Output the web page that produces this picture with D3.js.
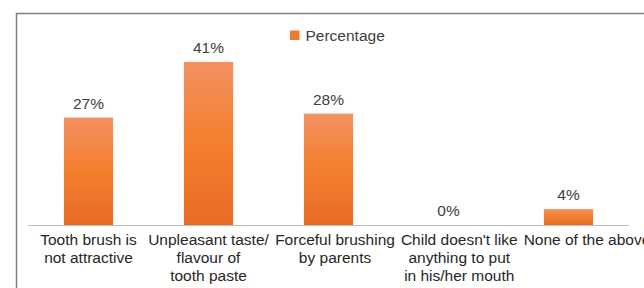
<!DOCTYPE html>
<html><head><meta charset="utf-8">
<script src="https://cdn.jsdelivr.net/npm/d3@7"></script>
<style>body{margin:0;background:#fff;}svg{display:block;font-family:"Liberation Sans",Arial,sans-serif;}</style>
</head><body>
<svg id="c" width="644" height="288"></svg>
<script>
const categories = [
  ["Tooth brush is","not attractive"],
  ["Unpleasant taste/","flavour of","tooth paste"],
  ["Forceful brushing","by parents"],
  ["Child doesn't like","anything to put","in his/her mouth"],
  ["None of the above"]
];
const values = [27, 41, 28, 0, 4];
const seriesName = "Percentage";

const svg = d3.select("#c");
const defs = svg.append("defs");
const g = defs.append("linearGradient").attr("id","grad").attr("x1",0).attr("y1",0).attr("x2",0).attr("y2",1);
g.append("stop").attr("offset","0%").attr("stop-color","#f39160");
g.append("stop").attr("offset","50%").attr("stop-color","#f47f2e");
g.append("stop").attr("offset","100%").attr("stop-color","#e86b25");

// frame
svg.append("path").attr("d","M16.5,300 V13.5 H660").attr("fill","none").attr("stroke","#7f7f7f").attr("stroke-width",1.5);

const x = d3.scaleBand().domain(d3.range(values.length)).range([28.5,628.5]).paddingInner(0.59).paddingOuter(0.295);
const y = d3.scaleLinear().domain([0,45]).range([225,46]);

svg.append("line").attr("x1",28).attr("x2",629).attr("y1",225.5).attr("y2",225.5).attr("stroke","#bfbfbf").attr("stroke-width",1);

svg.selectAll("rect.bar").data(values).join("rect").attr("class","bar")
  .attr("x",(d,i)=>x(i)).attr("width",x.bandwidth())
  .attr("y",d=>y(d)).attr("height",d=>y(0)-y(d)).attr("fill","url(#grad)");

svg.selectAll("text.val").data(values).join("text").attr("class","val")
  .attr("x",(d,i)=>x(i)+x.bandwidth()/2).attr("y",d=>y(d)-9)
  .attr("text-anchor","middle").attr("font-size",15.5).attr("fill","#404040")
  .text(d=>d+"%");

// category labels with simple left-to-right overlap avoidance
const lab = svg.selectAll("text.cat").data(categories).join("text").attr("class","cat")
  .attr("text-anchor","middle").attr("font-size",15.5).attr("fill","#262626");
lab.each(function(lines,i){
  const t=d3.select(this);
  lines.forEach((l,j)=>t.append("tspan").attr("x",x(i)+x.bandwidth()/2).attr("y",244.5+j*18).text(l));
});
let prevRight = -Infinity;
const gap = 6;
lab.each(function(lines,i){
  const c = x(i)+x.bandwidth()/2;
  const w = this.getBBox().width;
  let left = c - w/2;
  if (left < prevRight + gap) left = prevRight + gap;
  const nc = left + w/2;
  d3.select(this).selectAll("tspan").attr("x", nc);
  prevRight = left + w;
});

// legend
svg.append("rect").attr("x",290).attr("y",30.5).attr("width",9.5).attr("height",9.5).attr("fill","#f07a30");
svg.append("text").attr("x",305.5).attr("y",40.5).attr("font-size",15.5).attr("fill","#404040").text(seriesName);
</script>
</body></html>
